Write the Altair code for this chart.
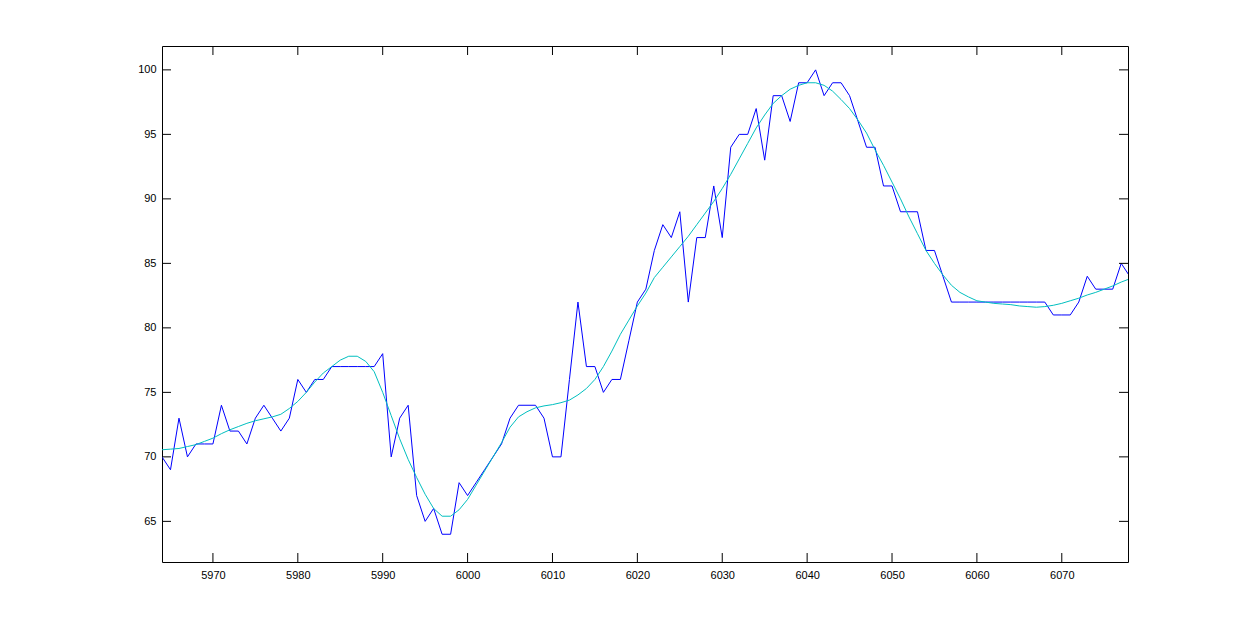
import altair as alt
import pandas as pd

x_start = 5964
raw_values = [70, 69, 73, 70, 71, 71, 71, 74, 72, 72, 71, 73, 74, 73, 72, 73, 76, 75, 76, 76,
              77, 77, 77, 77, 77, 77, 78, 70, 73, 74, 67, 65, 66, 64, 64, 68, 67, 68, 69, 70,
              71, 73, 74, 74, 74, 73, 70, 70, 76, 82, 77, 77, 75, 76, 76, 79, 82, 83, 86, 88,
              87, 89, 82, 87, 87, 91, 87, 94, 95, 95, 97, 93, 98, 98, 96, 99, 99, 100, 98, 99,
              99, 98, 96, 94, 94, 91, 91, 89, 89, 89, 86, 86, 84, 82, 82, 82, 82, 82, 82, 82,
              82, 82, 82, 82, 82, 81, 81, 81, 82, 84, 83, 83, 83, 85, 84]
smooth_values = [70.55, 70.6, 70.65, 70.8, 70.95, 71.2, 71.45, 71.8, 72.1, 72.35,
                 72.6, 72.8, 72.95, 73.1, 73.3, 73.75, 74.3, 75.0, 75.8, 76.5,
                 77.0, 77.5, 77.8, 77.8, 77.4, 76.6, 75.0, 73.2, 71.4, 69.8,
                 68.4, 67.1, 66.0, 65.4, 65.4, 65.9, 66.7, 67.8, 68.9, 70.0,
                 71.1, 72.3, 73.1, 73.5, 73.8, 73.95, 74.05, 74.2, 74.4, 74.8,
                 75.3, 76.0, 77.0, 78.2, 79.5, 80.6, 81.7, 82.7, 83.9, 84.7,
                 85.5, 86.3, 87.1, 88.0, 88.9, 89.8, 90.8, 91.9, 93.1, 94.3,
                 95.5, 96.5, 97.4, 98.0, 98.5, 98.8, 99.0, 99.0, 98.8, 98.35,
                 97.7, 97.0, 96.1, 95.1, 93.8, 92.6, 91.3, 90.0, 88.6, 87.3,
                 86.0, 85.0, 84.1, 83.3, 82.75, 82.4, 82.1, 82.0, 81.9, 81.85,
                 81.8, 81.7, 81.65, 81.6, 81.65, 81.75, 81.9, 82.1, 82.3, 82.55,
                 82.75, 83.0, 83.25, 83.55, 83.8]
x_ticks = [5970, 5980, 5990, 6000, 6010, 6020, 6030, 6040, 6050, 6060, 6070]
y_ticks = [65, 70, 75, 80, 85, 90, 95, 100]
x_domain = [5964, 6077.8]
y_domain = [61.85, 101.85]

W, H = 966, 516
TICK = 9

xs = list(range(x_start, x_start + len(raw_values)))
df = pd.DataFrame({"x": xs, "raw": raw_values, "smooth": smooth_values})
xt = pd.DataFrame({"x": x_ticks})
yt = pd.DataFrame({"y": y_ticks})

xscale = alt.Scale(domain=x_domain, nice=False, zero=False)
yscale = alt.Scale(domain=y_domain, nice=False, zero=False)
xaxis = alt.Axis(values=x_ticks, ticks=False, tickSize=0, domain=False, grid=False,
                 labelPadding=7, title=None, format="d")
yaxis = alt.Axis(values=y_ticks, ticks=False, tickSize=0, domain=False, grid=False,
                 labelPadding=6, title=None, format="d")

base = alt.Chart(df)
blue = base.mark_line(color="#0000FF", strokeWidth=1, clip=True).encode(
    x=alt.X("x:Q", scale=xscale, axis=xaxis),
    y=alt.Y("raw:Q", scale=yscale, axis=yaxis),
)
cyan = base.mark_line(color="#00BFBF", strokeWidth=1, clip=True).encode(
    x=alt.X("x:Q", scale=xscale),
    y=alt.Y("smooth:Q", scale=yscale),
)
xb = alt.Chart(xt).mark_rule(color="black", strokeWidth=1).encode(
    x=alt.X("x:Q", scale=xscale), y=alt.value(H), y2=alt.value(H - TICK))
xtop = alt.Chart(xt).mark_rule(color="black", strokeWidth=1).encode(
    x=alt.X("x:Q", scale=xscale), y=alt.value(0), y2=alt.value(TICK))
yl = alt.Chart(yt).mark_rule(color="black", strokeWidth=1).encode(
    y=alt.Y("y:Q", scale=yscale), x=alt.value(0), x2=alt.value(TICK))
yr = alt.Chart(yt).mark_rule(color="black", strokeWidth=1).encode(
    y=alt.Y("y:Q", scale=yscale), x=alt.value(W - TICK), x2=alt.value(W))

chart = alt.layer(blue, cyan, xb, xtop, yl, yr).properties(
    width=W, height=H,
    autosize=alt.AutoSizeParams(type="none"),
    padding={"left": 154, "top": 38, "right": 110, "bottom": 71},
    background="white",
).configure_view(
    stroke="black", strokeWidth=1
).configure_axis(
    labelFont="Liberation Sans", labelFontSize=11, labelColor="black"
)

chart.save("out.html", embed_options={"renderer": "svg", "actions": False})
